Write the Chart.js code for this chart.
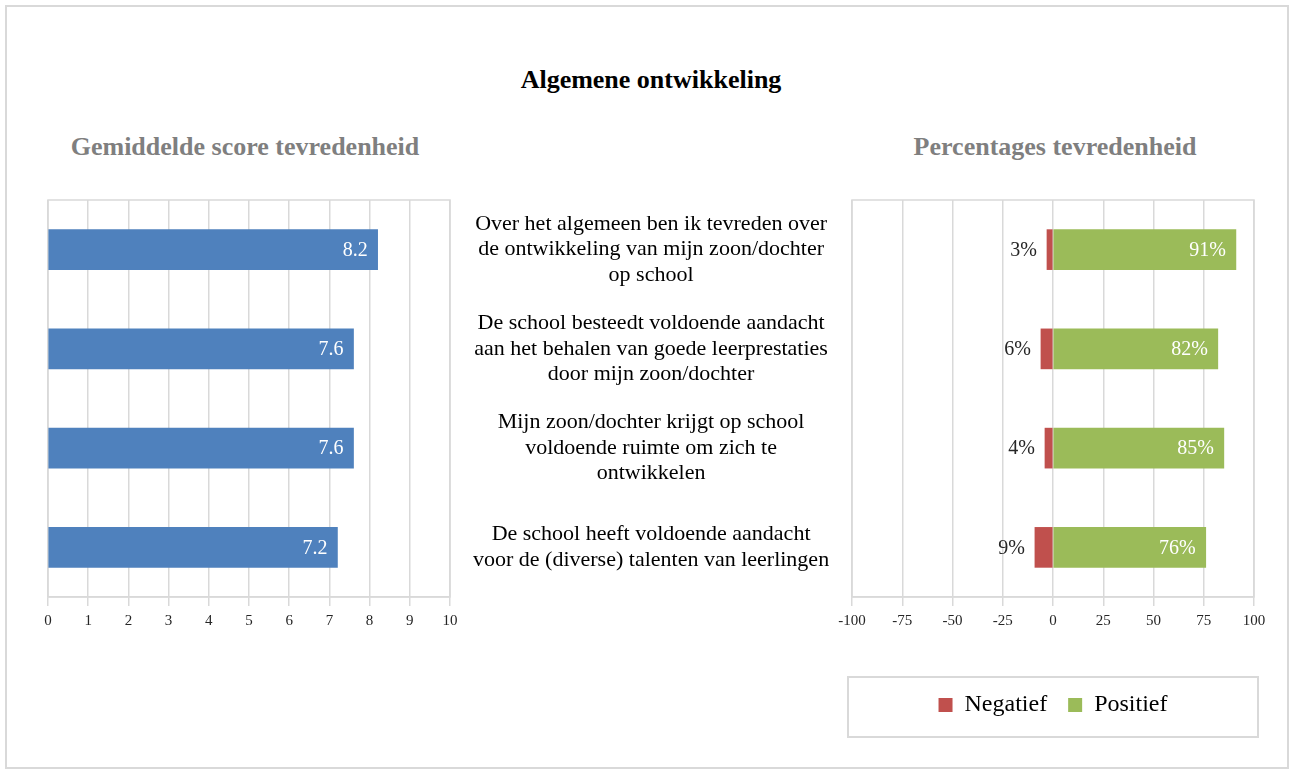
<!DOCTYPE html>
<html>
<head>
<meta charset="utf-8">
<script src="https://cdn.jsdelivr.net/npm/chart.js@4.4.1/dist/chart.umd.min.js"></script>
<style>
  html, body { margin: 0; padding: 0; background: #fff; overflow: hidden; }
  body { width: 1294px; height: 774px; position: relative; font-family: "Liberation Serif", "Times New Roman", serif; }
  #frame { position: absolute; left: 5px; top: 5px; width: 1284px; height: 764px; border: 2px solid #d9d9d9; box-sizing: border-box; }
  .txt { position: absolute; white-space: nowrap; text-align: center; font-weight: bold; font-size: 26px; line-height: 30px; }
  #title { left: 451px; width: 400px; top: 65px; color: #000; }
  #subLeft { left: 45px; width: 400px; top: 132px; color: #7f7f7f; }
  #subRight { left: 855px; width: 400px; top: 132px; color: #7f7f7f; }
  #legendBox { position: absolute; left: 847px; top: 676px; width: 412px; height: 62px; border: 2px solid #d9d9d9; box-sizing: border-box; }
  canvas { position: absolute; }
  #scoreChart { left: 0; top: 180px; }
  #pctChart { left: 820px; top: 180px; }
</style>
</head>
<body>
<div id="frame"></div>
<div class="txt" id="title">Algemene ontwikkeling</div>
<div class="txt" id="subLeft">Gemiddelde score tevredenheid</div>
<div class="txt" id="subRight">Percentages tevredenheid</div>
<div id="legendBox"></div>
<canvas id="scoreChart" width="852" height="460"></canvas>
<canvas id="pctChart" width="480" height="594"></canvas>
<script>
const SERIF = '"Liberation Serif", "Times New Roman", serif';
const GRID = '#d9d9d9';

// vragen (regels zoals in het origineel afgebroken)
const categories = [
    ['Over het algemeen ben ik tevreden over', 'de ontwikkeling van mijn zoon/dochter', 'op school'],
    ['De school besteedt voldoende aandacht', 'aan het behalen van goede leerprestaties', 'door mijn zoon/dochter'],
    ['Mijn zoon/dochter krijgt op school', 'voldoende ruimte om zich te', 'ontwikkelen'],
    ['De school heeft voldoende aandacht', 'voor de (diverse) talenten van leerlingen']
];
const scores = [8.2, 7.6, 7.6, 7.2];
const negatief = [3, 6, 4, 9];
const positief = [91, 82, 85, 76];
const scoreTicks = [0, 1, 2, 3, 4, 5, 6, 7, 8, 9, 10];
const pctTicks = [-100, -75, -50, -25, 0, 25, 50, 75, 100];

// grijze rand om het plotgebied
const plotBorder = {
    id: 'plotBorder',
    beforeDatasetsDraw(chart) {
        const a = chart.chartArea;
        const ctx = chart.ctx;
        ctx.save();
        ctx.strokeStyle = GRID;
        ctx.lineWidth = 1.5;
        ctx.strokeRect(a.left, a.top, a.right - a.left, a.bottom - a.top);
        ctx.restore();
    }
};

// waarden bij de balken
const valueLabels = {
    id: 'valueLabels',
    afterDatasetsDraw(chart) {
        const ctx = chart.ctx;
        ctx.save();
        ctx.font = '20px ' + SERIF;
        ctx.textBaseline = 'middle';
        ctx.textAlign = 'right';
        chart.data.datasets.forEach((ds, i) => {
            chart.getDatasetMeta(i).data.forEach((bar, j) => {
                ctx.fillStyle = ds.labelColor;
                ctx.fillText(ds.labelFormat(ds.data[j]), bar.x - 10, bar.y + 1);
            });
        });
        ctx.restore();
    }
};

const tickFont = { family: SERIF, size: 15 };

new Chart(document.getElementById('scoreChart'), {
    type: 'bar',
    data: {
        labels: categories,
        datasets: [{
            label: 'Gemiddelde score',
            data: scores,
            backgroundColor: '#4f81bd',
            barThickness: 40,
            labelColor: '#ffffff',
            labelFormat: v => v.toFixed(1)
        }]
    },
    options: {
        indexAxis: 'y',
        responsive: false,
        animation: false,
        devicePixelRatio: 1,
        layout: { padding: { left: 48, top: 20, right: 0, bottom: 0 } },
        plugins: { legend: { display: false }, tooltip: { enabled: false } },
        scales: {
            x: {
                min: 0, max: 10,
                afterBuildTicks: s => { s.ticks = scoreTicks.map(v => ({ value: v })); },
                afterFit: s => { s.height = 43; },
                grid: { color: GRID, lineWidth: 1.5, tickLength: 9 },
                border: { color: GRID, width: 1.5 },
                ticks: { font: tickFont, color: '#262626', padding: 6, maxRotation: 0 }
            },
            y: {
                position: 'right',
                afterFit: s => {
                    s.width = 402;
                    s.paddingTop = 0;
                    s.paddingBottom = 0;
                },
                grid: { display: false, drawTicks: false },
                border: { display: false },
                ticks: {
                    autoSkip: false,
                    crossAlign: 'center',
                    padding: 23,
                    color: '#000',
                    font: { family: SERIF, size: 22, lineHeight: 1.16 }
                }
            }
        }
    },
    plugins: [plotBorder, valueLabels]
});

new Chart(document.getElementById('pctChart'), {
    type: 'bar',
    data: {
        labels: categories,
        datasets: [{
            label: 'Negatief',
            data: negatief.map(v => -v),
            backgroundColor: '#c0504d',
            barThickness: 40,
            labelColor: '#262626',
            labelFormat: v => Math.abs(v) + '%'
        }, {
            label: 'Positief',
            data: positief,
            backgroundColor: '#9bbb59',
            barThickness: 40,
            labelColor: '#ffffff',
            labelFormat: v => v + '%'
        }]
    },
    options: {
        indexAxis: 'y',
        responsive: false,
        animation: false,
        devicePixelRatio: 1,
        layout: { padding: { left: 32, top: 20, right: 46, bottom: 47 } },
        plugins: {
            tooltip: { enabled: false },
            legend: {
                position: 'bottom',
                labels: {
                    boxWidth: 14,
                    boxHeight: 14,
                    padding: 21,
                    color: '#000',
                    font: { family: SERIF, size: 24 }
                }
            }
        },
        scales: {
            x: {
                stacked: true,
                min: -100, max: 100,
                afterBuildTicks: s => { s.ticks = pctTicks.map(v => ({ value: v })); },
                afterFit: s => { s.height = 75; },
                grid: { color: GRID, lineWidth: 1.5, tickLength: 9 },
                border: { color: GRID, width: 1.5 },
                ticks: { font: tickFont, color: '#262626', padding: 6, maxRotation: 0 }
            },
            y: { stacked: true, display: false }
        }
    },
    plugins: [plotBorder, valueLabels]
});
</script>
</body>
</html>
